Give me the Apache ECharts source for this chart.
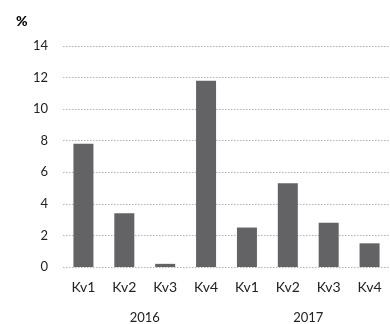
<!DOCTYPE html>
<html>
<head>
<meta charset="utf-8">
<script src="https://cdn.jsdelivr.net/npm/echarts@6/dist/echarts.min.js"></script>
<style>
  html, body { margin: 0; padding: 0; background: #fff; }
  #chart { width: 390px; height: 324px; }
</style>
</head>
<body>
<div id="chart"></div>
<script>
var quarters = ["Kv1", "Kv2", "Kv3", "Kv4", "Kv1", "Kv2", "Kv3", "Kv4"];
var years = ["2016", "2017"];
var values = [7.8, 3.4, 0.2, 11.8, 2.5, 5.3, 2.8, 1.5];
var yTicks = { min: 0, max: 14, interval: 2 };

var font = "Lato, 'Noto Sans', sans-serif";
var myChart = echarts.init(document.getElementById("chart"));
var option = {
  animation: false,
  title: {
    text: "%",
    left: 11,
    top: 9,
    textStyle: { fontSize: 14, fontWeight: 900, color: "#000", fontFamily: font }
  },
  grid: { left: 63, width: 335, top: 46, bottom: 57 },
  xAxis: [
    {
      type: "category",
      data: quarters,
      axisLine: { show: false },
      axisTick: { show: false },
      axisLabel: { color: "#222", fontSize: 14, margin: 13, fontFamily: font }
    },
    {
      type: "category",
      data: years,
      position: "bottom",
      offset: 36,
      axisLine: { show: false },
      axisTick: { show: false },
      axisLabel: { color: "#222", fontSize: 13, margin: 8, fontFamily: font }
    }
  ],
  yAxis: {
    type: "value",
    min: yTicks.min,
    max: yTicks.max,
    interval: yTicks.interval,
    axisLine: { show: false },
    axisTick: { show: false },
    axisLabel: { color: "#222", fontSize: 13, margin: 15, fontFamily: font },
    splitLine: { lineStyle: { color: "#b0b0b0", type: [1.5, 1.5], width: 1.2 } }
  },
  series: [
    {
      type: "bar",
      data: values,
      barWidth: 20,
      itemStyle: { color: "#636366" }
    }
  ]
};
myChart.setOption(option);
</script>
</body>
</html>
